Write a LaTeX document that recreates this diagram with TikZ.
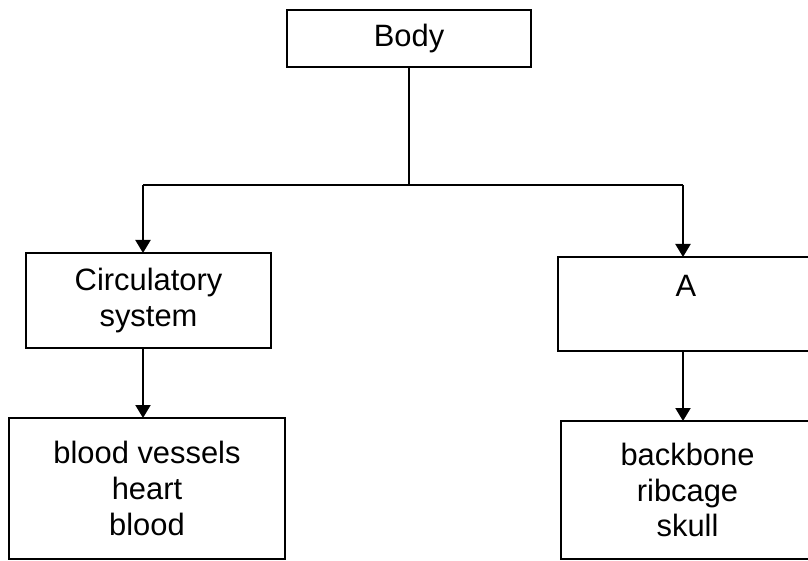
\documentclass[tikz,border=0pt]{standalone}
\usepackage{fontspec}
\setmainfont{Liberation Sans}
\usetikzlibrary{arrows.meta}
\begin{document}
\begin{tikzpicture}[x=1bp,y=-1bp,
  box/.style={draw,line width=1.8bp,inner sep=0pt,outer sep=0pt,align=center,
    font=\fontsize{31}{36}\selectfont},
  link/.style={line width=2bp},
  arr/.style={link,-{Triangle[length=13bp,width=15bp]}}]
\useasboundingbox (0,0) rectangle (808,561);
\clip (0,0) rectangle (808,561);
\node[box,minimum width=244bp,minimum height=57bp] (body) at (409,38.5) {Body};
\node[box,minimum width=245bp,minimum height=95bp] (circ) at (148.5,300.5) {Circulatory\\system};
\node[box,minimum width=276bp,minimum height=141bp] (blood) at (147,488.5) {blood vessels\\heart\\blood};
\node[box,minimum width=256bp,minimum height=94bp] (a) at (686,304) {};
\node[font=\fontsize{31}{36}\selectfont,inner sep=0pt] (alabel) at (686,286) {A};
\node[box,minimum width=253bp,minimum height=138bp] (back) at (687.5,490) {backbone\\ribcage\\skull};
\coordinate (jm) at (409,185);
\coordinate (jl) at (143,185);
\coordinate (jr) at (683,185);
\draw[link] (body.south) -- (jm);
\draw[link] (jl) -- (jr);
\draw[arr] (jl) -- (jl |- circ.north);
\draw[arr] (jr) -- (jr |- a.north);
\draw[arr] (jl |- circ.south) -- (jl |- blood.north);
\draw[arr] (jr |- a.south) -- (jr |- back.north);
\end{tikzpicture}
\end{document}
